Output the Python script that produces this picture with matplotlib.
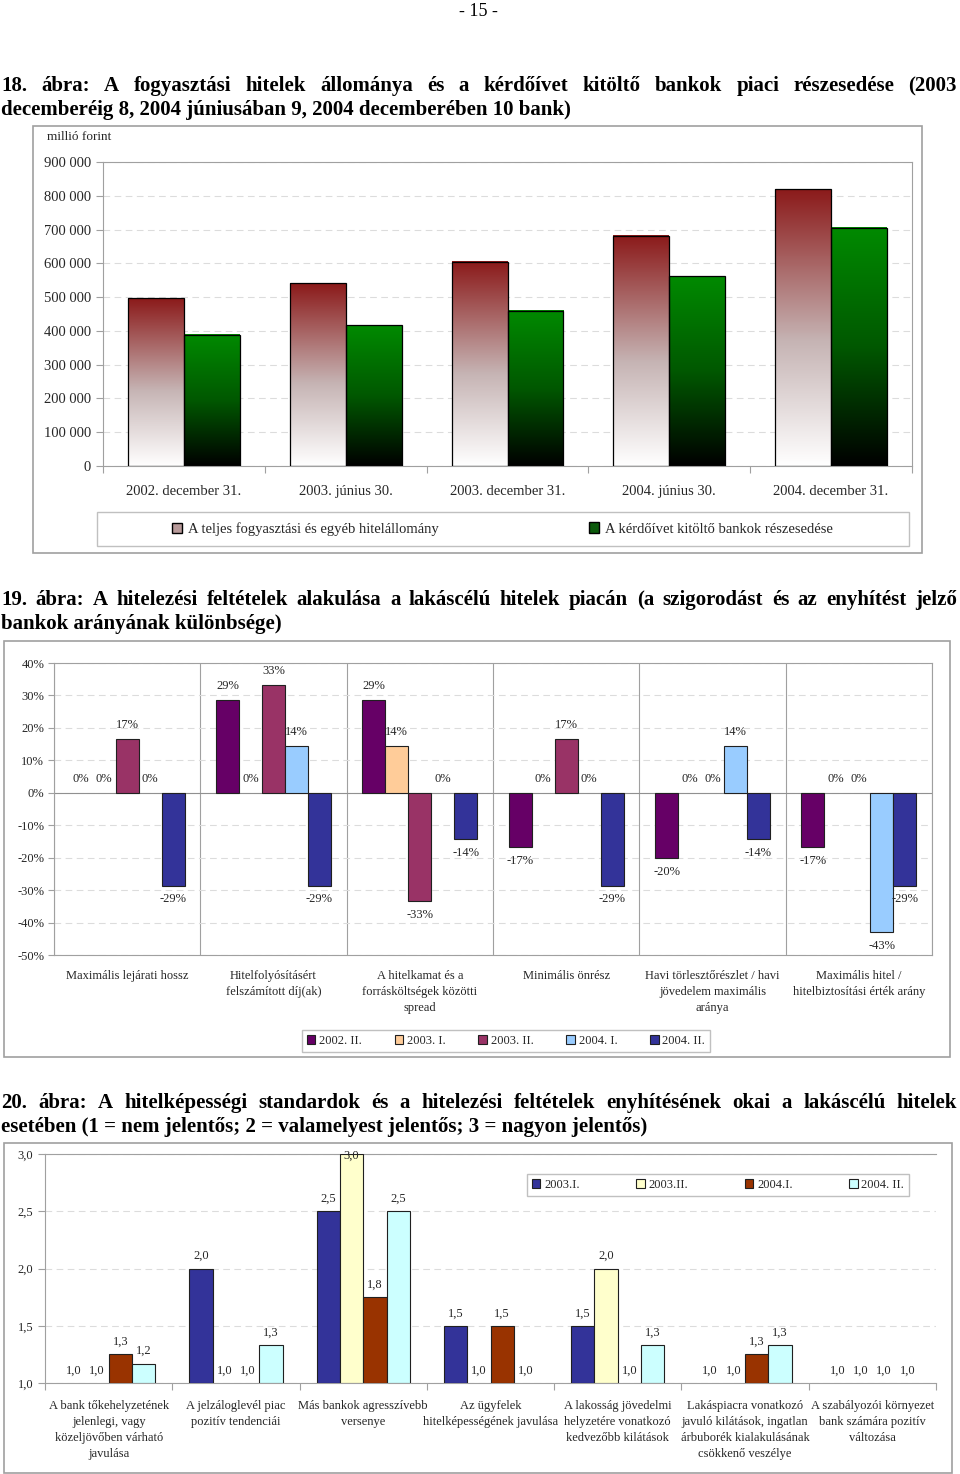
import numpy as np
import matplotlib
matplotlib.use('Agg')
import matplotlib.pyplot as plt
from matplotlib.patches import Rectangle, Patch
from matplotlib.colors import LinearSegmentedColormap

plt.rcParams['font.family'] = ['Liberation Serif', 'DejaVu Serif']

W, H = 960, 1474
TXT = '#262626'
GRAY = '#a0a0a0'

# 18. ábra
dates = ['2002. december 31.', '2003. június 30.', '2003. december 31.',
         '2004. június 30.', '2004. december 31.']
total_stock = [497000, 541000, 604000, 681000, 820000]
survey_share = [388000, 417000, 459000, 562000, 705000]
legend18 = ['A teljes fogyasztási és egyéb hitelállomány',
            'A kérdőívet kitöltő bankok részesedése']

# 19. ábra
cond_cats = ['Maximális lejárati hossz',
             'Hitelfolyósításért\nfelszámított díj(ak)',
             'A hitelkamat és a\nforrásköltségek közötti\nspread',
             'Minimális önrész',
             'Havi törlesztőrészlet / havi\njövedelem maximális\naránya',
             'Maximális hitel /\nhitelbiztosítási érték arány']
cond_series = ['2002. II.', '2003. I.', '2003. II.', '2004. I.', '2004. II.']
cond_2002_2 = [0, 28.6, 28.6, -16.7, -20.0, -16.7]
cond_2003_1 = [0, 0, 14.3, 0, 0, 0]
cond_2003_2 = [16.7, 33.3, -33.3, 16.7, 0, 0]
cond_2004_1 = [0, 14.3, 0, 0, 14.3, -42.9]
cond_2004_2 = [-28.6, -28.6, -14.3, -28.6, -14.3, -28.6]

# 20. ábra
reason_cats = ['A bank tőkehelyzetének\njelenlegi, vagy\nközeljövőben várható\njavulása',
               'A jelzáloglevél piac\npozitív tendenciái',
               'Más bankok agresszívebb\nversenye',
               'Az ügyfelek\nhitelképességének javulása',
               'A lakosság jövedelmi\nhelyzetére vonatkozó\nkedvezőbb kilátások',
               'Lakáspiacra vonatkozó\njavuló kilátások, ingatlan\nárbuborék kialakulásának\ncsökkenő veszélye',
               'A szabályozói környezet\nbank számára pozitív\nváltozása']
reason_series = ['2003.I.', '2003.II.', '2004.I.', '2004. II.']
r_2003_1 = [1.0, 2.0, 2.5, 1.5, 1.5, 1.0, 1.0]
r_2003_2 = [1.0, 1.0, 3.0, 1.0, 2.0, 1.0, 1.0]
r_2004_1 = [1.25, 1.0, 1.75, 1.5, 1.0, 1.25, 1.0]
r_2004_2 = [1.17, 1.33, 2.5, 1.0, 1.33, 1.33, 1.0]

title18 = ['18. ábra: A fogyasztási hitelek állománya és a kérdőívet kitöltő bankok piaci részesedése (2003',
           'decemberéig 8, 2004 júniusában 9, 2004 decemberében 10 bank)']
title19 = ['19. ábra: A hitelezési feltételek alakulása a lakáscélú hitelek piacán (a szigorodást és az enyhítést jelző',
           'bankok arányának különbsége)']
title20 = ['20. ábra: A hitelképességi standardok és a hitelezési feltételek enyhítésének okai a lakáscélú hitelek',
           'esetében (1 = nem jelentős; 2 = valamelyest jelentős; 3 = nagyon jelentős)']

fig = plt.figure(figsize=(9.6, 14.74), dpi=100)


def px_axes(x0, y0, x1, y1):
    return fig.add_axes([x0 / W, 1 - y1 / H, (x1 - x0) / W, (y1 - y0) / H])


def frame(x0, y0, x1, y1, color=GRAY, lw=1.2):
    fig.add_artist(Rectangle((x0 / W, 1 - y1 / H), (x1 - x0) / W, (y1 - y0) / H,
                             transform=fig.transFigure, fill=False,
                             edgecolor=color, lw=lw))


def title(lines, y_px, size=15, dy=24):
    r = fig.canvas.get_renderer()
    for i, line in enumerate(lines):
        y = 1 - (y_px + i * dy) / H
        if i == len(lines) - 1:
            fig.text(1 / W, y, line, fontsize=size, fontweight='bold', va='center')
            continue
        words = line.split(' ')
        fs = size
        while True:
            ts = [fig.text(0, y, wd, fontsize=fs, fontweight='bold', va='center')
                  for wd in words]
            widths = [t.get_window_extent(r).width for t in ts]
            gap = (957 - 1 - sum(widths)) / (len(words) - 1)
            if gap >= 3.5:
                break
            for t in ts:
                t.remove()
            fs -= 0.25
        x = 1
        for t, wd in zip(ts, widths):
            t.set_x(x / W)
            x += wd + gap


fig.text(478 / W, 1 - 12 / H, '- 15 -', fontsize=13, ha='center', va='center')
title(title18, 86)
title(title19, 600)
title(title20, 1103)

# ---------------- 18. ábra ----------------
frame(33, 126, 922, 553)
ax1 = px_axes(103, 162, 912, 466)
x = np.arange(len(dates))
w = 0.345
red = LinearSegmentedColormap.from_list('red', [(0, 'white'), (0.45, '#c6b4b4'), (1, '#8b1a1a')])
green = LinearSegmentedColormap.from_list('green', [(0, 'black'), (0.5, '#005800'), (1, '#008a00')])
grad = np.linspace(0, 1, 256).reshape(-1, 1)
b1 = ax1.bar(x - w / 2, total_stock, w, facecolor='none', edgecolor='black', lw=0.9, zorder=3)
b2 = ax1.bar(x + w / 2, survey_share, w, facecolor='none', edgecolor='black', lw=0.9, zorder=3)
for bars, cmap in ((b1, red), (b2, green)):
    for p in bars:
        ax1.imshow(grad, extent=(p.get_x(), p.get_x() + p.get_width(), 0, p.get_height()),
                   origin='lower', cmap=cmap, aspect='auto', zorder=2)
ax1.set_xlim(-0.5, len(dates) - 0.5)
ax1.set_ylim(0, 900000)
yt = np.arange(0, 900001, 100000)
ax1.set_yticks(yt)
ax1.set_yticklabels([f'{v:,}'.replace(',', ' ') for v in yt])
ax1.yaxis.grid(True, ls=(0, (6, 4)), color='#dcdcdc', lw=0.8)
ax1.set_axisbelow(True)
ax1.set_xticks(np.arange(-0.5, len(dates), 1))
ax1.set_xticklabels([])
ax1.set_xticks(x, minor=True)
ax1.set_xticklabels(dates, minor=True)
ax1.tick_params(axis='both', which='major', colors=GRAY, labelcolor=TXT, length=5,
                labelsize=10.5)
ax1.tick_params(axis='x', which='minor', length=0, pad=14, labelsize=10.5, labelcolor=TXT)
for s in ax1.spines.values():
    s.set_color(GRAY)
fig.text(47 / W, 1 - 137 / H, 'millió forint', fontsize=9.5, color=TXT, va='center')
frame(97, 512, 909, 546, color='#c0c0c0', lw=1)
for lab, col, cx in ((legend18[0], '#b89a9a', 305), (legend18[1], '#0b5a0b', 711)):
    fig.legend(handles=[Patch(facecolor=col, edgecolor='black')], labels=[lab],
               loc='center', bbox_to_anchor=(cx / W, 1 - 529 / H), frameon=False,
               handlelength=0.7, handleheight=0.7, handletextpad=0.4, fontsize=10.5,
               labelcolor=TXT)

# ---------------- 19. ábra ----------------
frame(4, 641, 950, 1057)
ax2 = px_axes(54, 663, 932, 955)
x = np.arange(len(cond_cats))
w = 0.157
cond_vals = [cond_2002_2, cond_2003_1, cond_2003_2, cond_2004_1, cond_2004_2]
cond_colors = ['#660066', '#ffcc99', '#993366', '#99ccff', '#333399']
for i, (vals, col) in enumerate(zip(cond_vals, cond_colors)):
    xs = x + (i - 2) * w
    bars = ax2.bar(xs, vals, w, color=col, edgecolor='#202020', lw=0.8, zorder=3)
    for p, xi, v in zip(bars, xs, vals):
        if v == 0:
            p.set_linewidth(0)
        ax2.annotate(f'{v:.0f}%', (xi, v), xytext=(0, 10 if v >= 0 else -10),
                     textcoords='offset points', ha='center', va='center',
                     fontsize=9, color=TXT, zorder=4)
ax2.axhline(0, color='#909090', lw=0.8, zorder=2)
ax2.set_xlim(-0.5, len(cond_cats) - 0.5)
ax2.set_ylim(-50, 40)
yt = np.arange(-50, 41, 10)
ax2.set_yticks(yt)
ax2.set_yticklabels([f'{v}%' for v in yt])
ax2.set_xticks(np.arange(-0.5, len(cond_cats), 1))
ax2.set_xticklabels([])
ax2.set_xticks(x, minor=True)
ax2.set_xticklabels(cond_cats, minor=True, linespacing=1.45)
ax2.xaxis.grid(True, color=GRAY, lw=0.8)
ax2.yaxis.grid(True, ls=(0, (6, 4)), color='#dcdcdc', lw=0.8)
ax2.set_axisbelow(True)
ax2.tick_params(axis='y', colors=GRAY, labelcolor=TXT, length=4, pad=3, labelsize=9)
ax2.tick_params(axis='x', which='both', length=0, labelsize=9, labelcolor=TXT)
ax2.tick_params(axis='x', which='minor', pad=11)
for s in ax2.spines.values():
    s.set_color(GRAY)
h2 = [Patch(facecolor=c, edgecolor='#202020', lw=0.8) for c in cond_colors]
fig.legend(h2, cond_series, loc='center', bbox_to_anchor=(506 / W, 1 - 1041 / H), ncol=5,
           frameon=True, fancybox=False, edgecolor='#c0c0c0', framealpha=1,
           handlelength=0.7, handleheight=0.7, handletextpad=0.3, columnspacing=2.6,
           fontsize=9, labelcolor=TXT, borderpad=0.4)

# ---------------- 20. ábra ----------------
frame(4, 1143, 952, 1473)
ax3 = px_axes(45, 1154, 936, 1383)
x = np.arange(len(reason_cats))
w = 0.183
r_vals = [r_2003_1, r_2003_2, r_2004_1, r_2004_2]
r_colors = ['#333399', '#ffffcc', '#993300', '#ccffff']
for i, (vals, col) in enumerate(zip(r_vals, r_colors)):
    xs = x + (i - 1.5) * w
    vals = np.array(vals)
    bars = ax3.bar(xs, vals - 1, w, bottom=1, color=col, edgecolor='#202020', lw=0.8,
                   zorder=3)
    for p, xi, v in zip(bars, xs, vals):
        if v == 1:
            p.set_linewidth(0)
        off = -1 if v >= 3 else 9
        ax3.annotate(f'{v + 1e-9:.1f}'.replace('.', ','), (xi, v), xytext=(0, off),
                     textcoords='offset points', ha='center', va='center',
                     fontsize=9, color=TXT, zorder=4, annotation_clip=False)
ax3.set_xlim(-0.5, len(reason_cats) - 0.5)
ax3.set_ylim(1, 3)
yt = [1.0, 1.5, 2.0, 2.5, 3.0]
ax3.set_yticks(yt)
ax3.set_yticklabels([f'{v:.1f}'.replace('.', ',') for v in yt])
ax3.yaxis.grid(True, ls=(0, (6, 4)), color='#dcdcdc', lw=0.8)
ax3.set_axisbelow(True)
ax3.set_xticks(np.arange(-0.5, len(reason_cats), 1))
ax3.set_xticklabels([])
ax3.set_xticks(x, minor=True)
ax3.set_xticklabels(reason_cats, minor=True, linespacing=1.45)
ax3.tick_params(axis='both', which='major', colors=GRAY, labelcolor=TXT, length=5,
                labelsize=9)
ax3.tick_params(axis='x', which='minor', length=0, pad=12, labelsize=9, labelcolor=TXT)
ax3.spines['right'].set_visible(False)
for s in ax3.spines.values():
    s.set_color(GRAY)
h3 = [Patch(facecolor=c, edgecolor='#202020', lw=0.8) for c in r_colors]
fig.legend(h3, reason_series, loc='center', bbox_to_anchor=(718 / W, 1 - 1185 / H), ncol=4,
           frameon=True, fancybox=False, edgecolor='#c0c0c0', framealpha=1,
           handlelength=0.7, handleheight=0.7, handletextpad=0.3, columnspacing=4.5,
           fontsize=9, labelcolor=TXT, borderpad=0.4)

fig.savefig('out.png', dpi=100)
